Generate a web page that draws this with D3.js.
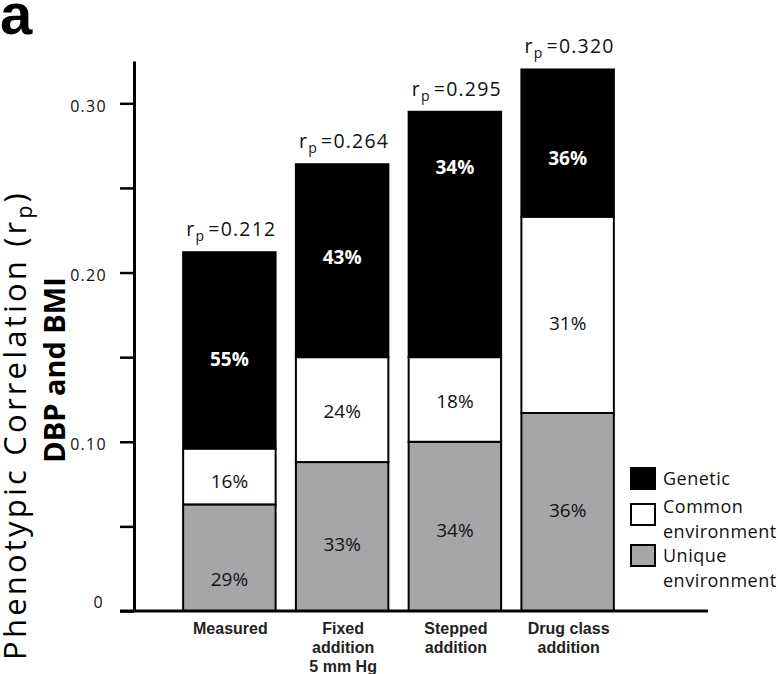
<!DOCTYPE html>
<html>
<head>
<meta charset="utf-8">
<script src="https://cdn.jsdelivr.net/npm/d3@7"></script>
<style>
  body { margin: 0; background: #fff; }
  svg { display: block; }
</style>
</head>
<body>
<div id="chart"></div>
<script>
// ===== DATA =====
const categories = ['Measured', 'Fixed addition 5 mm Hg', 'Stepped addition', 'Drug class addition'];
const categoryLines = [['Measured'], ['Fixed', 'addition', '5 mm Hg'], ['Stepped', 'addition'], ['Drug class', 'addition']];

// segment heights (stacked bottom -> top)
const unique = [0.063, 0.088, 0.100, 0.117];
const common = [0.033, 0.062, 0.050, 0.116];
const genetic = [0.116, 0.114, 0.145, 0.087];

const rpLabels = ['0.212', '0.264', '0.295', '0.320'];
const pctUnique = ['29%', '33%', '34%', '36%'];
const pctCommon = ['16%', '24%', '18%', '31%'];
const pctGenetic = ['55%', '43%', '34%', '36%'];

const yTicks = [0, 0.05, 0.10, 0.15, 0.20, 0.25, 0.30];
const legendItems = [['Genetic'], ['Common', 'environment'], ['Unique', 'environment']];

// ===== LAYOUT =====
const W = 778, H = 674;
const axisX = 134, yBase = 611, yTop = 61;
const FONT = '"Open Sans", "Noto Sans", sans-serif';
const colors = { genetic: '#000000', common: '#ffffff', unique: '#a6a6a9' };
// small vertical nudges (px) of the percent labels, as in the figure
const nudge = { genetic: [9, -4, -67, 15], common: [5, 1, 2, 8], unique: [21, 7, 4, -2] };

const svg = d3.select('#chart').append('svg')
  .attr('width', W)
  .attr('height', H);

const rows = categories.map((c, i) => ({ cat: c, unique: unique[i], common: common[i], genetic: genetic[i] }));
const keys = ['unique', 'common', 'genetic'];
const stacked = d3.stack().keys(keys)(rows);

const x = d3.scaleBand()
  .domain(categories)
  .range([173, 624])
  .paddingInner(0.18)
  .paddingOuter(0.09);

const y = d3.scaleLinear()
  .domain([0, 0.325])
  .range([yBase, yTop]);

// ===== BARS =====
svg.append('g').selectAll('g')
  .data(stacked)
  .join('g')
  .attr('fill', s => colors[s.key])
  .selectAll('rect')
  .data(s => s)
  .join('rect')
  .attr('x', d => x(d.data.cat))
  .attr('width', x.bandwidth())
  .attr('y', d => y(d[1]))
  .attr('height', d => y(d[0]) - y(d[1]))
  .attr('stroke', '#000')
  .attr('stroke-width', 2);

// ===== PERCENT LABELS =====
const pct = { unique: pctUnique, common: pctCommon, genetic: pctGenetic };
stacked.forEach(s => {
  svg.append('g').selectAll('text')
    .data(s)
    .join('text')
    .attr('x', d => x(d.data.cat) + x.bandwidth() / 2)
    .attr('y', (d, i) => (y(d[0]) + y(d[1])) / 2 + nudge[s.key][i])
    .attr('text-anchor', 'middle')
    .attr('dominant-baseline', 'central')
    .attr('font-family', FONT)
    .attr('font-size', 19)
    .attr('font-weight', s.key === 'genetic' ? 'bold' : 'normal')
    .attr('fill', s.key === 'genetic' ? '#fff' : '#111')
    .text((d, i) => pct[s.key][i]);
});

// ===== r_p LABELS =====
const topSeries = stacked[stacked.length - 1];
const rp = svg.append('g').selectAll('text')
  .data(topSeries)
  .join('text')
  .attr('x', d => x(d.data.cat) + x.bandwidth() / 2 + 2)
  .attr('y', d => y(d[1]) - 16)
  .attr('text-anchor', 'middle')
  .attr('font-family', FONT)
  .attr('font-size', 19.5)
  .attr('letter-spacing', 1.2)
  .attr('fill', '#111');
rp.append('tspan').text('r');
rp.append('tspan').attr('font-size', 14).attr('dy', 5).text('p');
rp.append('tspan').attr('dy', -5).attr('dx', 3).text((d, i) => '=' + rpLabels[i]);

// ===== AXES =====
const yAxis = svg.append('g')
  .attr('transform', `translate(${axisX},0)`)
  .call(d3.axisLeft(y)
    .tickValues(yTicks)
    .tickSize(14)
    .tickSizeOuter(0)
    .tickPadding(13)
    .tickFormat(d => d === 0 ? '0' : (Math.round(d * 100) % 10 === 0 ? d3.format('.2f')(d) : '')));
yAxis.select('.domain').attr('stroke-width', 3);
yAxis.selectAll('.tick line').attr('stroke-width', 2.5);
yAxis.selectAll('.tick text')
  .attr('font-family', FONT)
  .attr('font-size', 16)
  .attr('letter-spacing', 1.3)
  .attr('fill', '#111')
  .attr('dy', '0.5em');
yAxis.selectAll('.tick').filter(d => d === 0).select('text')
  .attr('x', -30)
  .attr('dy', '-0.2em');

svg.append('line')
  .attr('x1', 120).attr('x2', 708)
  .attr('y1', yBase).attr('y2', yBase)
  .attr('stroke', '#000')
  .attr('stroke-width', 3);

// category labels
svg.append('g').selectAll('text')
  .data(categories)
  .join('text')
  .attr('x', d => x(d) + x.bandwidth() / 2 + 1)
  .attr('y', 634)
  .attr('text-anchor', 'middle')
  .attr('font-family', '"Liberation Sans", Arial, sans-serif')
  .attr('font-weight', 'bold')
  .attr('font-size', 16)
  .attr('fill', '#222')
  .selectAll('tspan')
  .data((d, i) => categoryLines[i])
  .join('tspan')
  .attr('x', function() { return this.parentNode.getAttribute('x'); })
  .attr('dy', (d, i) => i === 0 ? 0 : 19)
  .text(d => d);

// ===== Y TITLE =====
const t1 = svg.append('text')
  .attr('transform', 'translate(26,425) rotate(-90)')
  .attr('text-anchor', 'middle')
  .attr('font-family', FONT)
  .attr('font-size', 31)
  .attr('letter-spacing', 3.2)
  .attr('fill', '#000');
t1.append('tspan').text('Phenotypic Correlation (r');
t1.append('tspan').attr('font-size', 21).attr('dy', 6).text('p');
t1.append('tspan').attr('dy', -6).text(')');

svg.append('text')
  .attr('transform', 'translate(65,370) rotate(-90)')
  .attr('text-anchor', 'middle')
  .attr('font-family', FONT)
  .attr('font-weight', 'bold')
  .attr('font-size', 29)
  .attr('fill', '#000')
  .text('DBP and BMI');

// ===== PANEL LETTER =====
svg.append('text')
  .attr('x', 0)
  .attr('y', 34)
  .attr('font-family', '"Liberation Sans", Arial, sans-serif')
  .attr('font-weight', 'bold')
  .attr('font-size', 58)
  .text('a');

// ===== LEGEND =====
const legendKeys = ['genetic', 'common', 'unique'];
const boxY = [468, 504, 545];
const textY = [485, 513, 562];
const lg = svg.append('g');
lg.selectAll('rect')
  .data(legendKeys)
  .join('rect')
  .attr('x', 631)
  .attr('y', (d, i) => boxY[i])
  .attr('width', 24)
  .attr('height', 21)
  .attr('fill', d => colors[d])
  .attr('stroke', '#000')
  .attr('stroke-width', 2);
lg.selectAll('text')
  .data(legendKeys)
  .join('text')
  .attr('x', 663)
  .attr('y', (d, i) => textY[i])
  .attr('font-family', FONT)
  .attr('font-size', 18)
  .attr('letter-spacing', 0.5)
  .attr('fill', '#111')
  .selectAll('tspan')
  .data((d, i) => legendItems[i])
  .join('tspan')
  .attr('x', 663)
  .attr('dy', (d, i) => i === 0 ? 0 : 25)
  .text(d => d);
</script>
</body>
</html>
